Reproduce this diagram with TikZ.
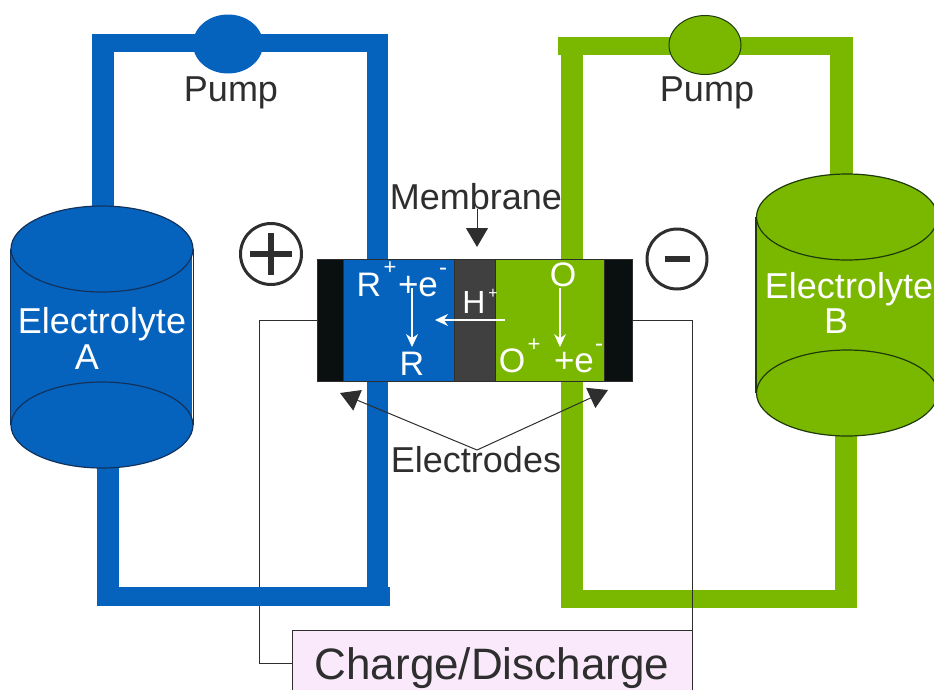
\documentclass[tikz,border=0pt]{standalone}
\usepackage{fontspec}
\setmainfont{Liberation Sans}
\usetikzlibrary{positioning,arrows.meta,shapes.geometric}
\definecolor{fluidA}{HTML}{0563BE}
\definecolor{fluidB}{HTML}{7AB800}
\definecolor{ink}{HTML}{2E2E2E}
\definecolor{edgeA}{HTML}{12325C}
\definecolor{edgeB}{HTML}{1E3A08}
\definecolor{membfill}{HTML}{404040}
\definecolor{elecfill}{HTML}{0A0F0F}
\definecolor{boxfill}{HTML}{F9E9FB}

\begin{document}
\begin{tikzpicture}[
  x=1pt,y=-1pt,
  tag/.style={anchor=base,inner sep=0pt,text=ink,font=\fontsize{36}{40}\selectfont},
  tanktag/.style={anchor=base,inner sep=0pt,text=white,font=\fontsize{36}{40}\selectfont},
  fluidtag/.style={anchor=base,inner sep=0pt,text=white,font=\fontsize{34}{40}\selectfont},
  supertag/.style={anchor=base,inner sep=0pt,text=white,font=\fontsize{22}{24}\selectfont},
  tankcap/.style={ellipse,inner sep=0pt,line width=1.2pt,minimum width=#1,minimum height=86pt},
  cellpart/.style={rectangle,inner sep=0pt,outer sep=0pt,minimum height=122pt,draw=ink,line width=0.8pt},
  wire/.style={draw=ink,line width=1pt},
  blackarrow/.style={draw=ink,line width=1pt,-{Triangle[length=19pt,width=22pt]}},
  whitearrow/.style={draw=white,line width=1.2pt,-{Stealth[length=13pt,width=12pt]}},
  sign/.style={circle,draw=ink,line width=3pt,inner sep=0pt}]

\clip (0,0) rectangle (934,689);

% ============ Green loop ============
\fill[fluidB] (558,37) rectangle (853,55);
\fill[fluidB] (561,55) rectangle (583,608);
\fill[fluidB] (830,55) rectangle (853,200);
\fill[fluidB] (835,400) rectangle (857,608);
\fill[fluidB] (561,590) rectangle (857,608);
\node[ellipse,fill=fluidB,draw=edgeB,line width=1pt,inner sep=0pt,
      minimum width=72pt,minimum height=59pt] (pumpB) at (705,45) {};
\node[tag] (pumpBlabel) at (707,101) {Pump};

% ============ Blue loop, upper part ============
\fill[fluidA] (92,34) rectangle (388,52);
\fill[fluidA] (92,52) rectangle (114,230);
\fill[fluidA] (367,52) rectangle (388,606);
\fill[fluidA] (97,440) rectangle (119,606);
\node[ellipse,fill=fluidA,inner sep=0pt,minimum width=70pt,minimum height=59pt]
  (pumpA) at (228,44) {};
\node[tag] (pumpAlabel) at (231,101) {Pump};

% ============ Tank A ============
\fill[fluidA] (11,249) rectangle (192,425);
\node[tankcap=182pt,draw=edgeA,fill=fluidA] (capA) at (102,249) {};
\node[tankcap=182pt,draw=edgeA,fill=fluidA] (baseA) at (102,425) {};
\draw[edgeA,line width=1.2pt] (capA.west) -- (baseA.west);
\draw[edgeA,line width=1.2pt] (capA.east) -- (baseA.east);
\node[tanktag] (nameA) at (102,333) {Electrolyte};
\node[tanktag] (letterA) at (87,369) {A};

% ============ Tank B ============
\fill[fluidB] (757,217) rectangle (937,393);
\node[tankcap=181pt,draw=edgeB,fill=fluidB] (capB) at (847,217) {};
\node[tankcap=181pt,draw=edgeB,fill=fluidB] (baseB) at (847,393) {};
\draw[edgeB,line width=1.2pt] (capB.west) -- (baseB.west);
\node[tanktag] (nameB) at (849,298) {Electrolyte};
\node[tanktag] (letterB) at (836,333) {B};

% ============ Cell ============
\node[cellpart,minimum width=26pt,fill=elecfill] (elecL) at (330,320) {};
\node[cellpart,minimum width=111pt,fill=fluidA,right=0pt of elecL] (halfA) {};
\node[cellpart,minimum width=41pt,fill=membfill,right=0pt of halfA] (memb) {};
\node[cellpart,minimum width=109pt,fill=fluidB,right=0pt of memb] (halfB) {};
\node[cellpart,minimum width=28pt,fill=elecfill,right=0pt of halfB] (elecR) {};

\node[fluidtag] (Rplus) at (369,296) {R};
\node[supertag] (Rsup) at (390,274.5) {+};
\node[fluidtag,font=\fontsize{35}{40}\selectfont] (Rel) at (418,296) {+e};
\node[supertag,font=\fontsize{24}{26}\selectfont] (Relsup) at (443,275.5) {-};
\node[fluidtag] (Rout) at (412,375) {R};
\node[fluidtag,font=\fontsize{32}{40}\selectfont] (proton) at (474,313) {H};
\node[supertag,font=\fontsize{16}{18}\selectfont] (protonsup) at (493,298) {+};
\node[fluidtag] (Oin) at (563,286) {O};
\node[fluidtag] (Oplus) at (512,372) {O};
\node[supertag] (Osup) at (534,351.5) {+};
\node[fluidtag,font=\fontsize{35}{40}\selectfont] (Oel) at (574,372) {+e};
\node[supertag,font=\fontsize{24}{26}\selectfont] (Oelsup) at (599,351.5) {-};

\coordinate (flowstart) at (505,320);
\coordinate (flowend) at (435,320);
\coordinate (Rstart) at (412,288);
\coordinate (Rend) at (412,347);
\coordinate (Ostart) at (560,288);
\coordinate (Oend) at (560,347);
\draw[whitearrow] (Rstart) -- (Rend);
\draw[whitearrow] (Ostart) -- (Oend);
\draw[whitearrow] (flowstart) -- (flowend);

% ============ Charger and wires ============
\node[rectangle,draw=ink,line width=1pt,fill=boxfill,text=ink,inner sep=0pt,
      minimum width=400pt,minimum height=76pt,anchor=north,
      font=\fontsize{44}{50}\selectfont] (charger) at (492,630) {Charge/Discharge};
\coordinate (wireL) at (259,320);
\draw[wire] (elecL.west) -- (wireL) |- ([yshift=5pt]charger.west);
\draw[wire] (elecR.east) -| (charger.north east);

% blue bar goes over the left wire
\fill[fluidA] (97,587) rectangle (390,606);

% ============ Labels ============
\node[tag] (memblabel) at (476,209) {Membrane};
\node[tag] (eleclabel) at (476,472) {Electrodes};
\coordinate (membtip) at (477,247);
\coordinate (membtail) at (477,209);
\draw[blackarrow] (membtail) -- (membtip);
\coordinate (elechub) at (477,450);
\coordinate (tipL) at (340,393);
\coordinate (tipR) at (608,390);
\draw[blackarrow] (elechub) -- (tipL);
\draw[blackarrow] (elechub) -- (tipR);

% ============ Polarity signs ============
\node[sign,minimum size=61pt] (plussign) at (271,254) {};
\node[sign,minimum size=60pt] (minussign) at (677,259) {};
\draw[ink,line width=5.5pt] (plussign.center) ++(-21,0) -- ++(42,0);
\draw[ink,line width=5.5pt] (plussign.center) ++(0,-21) -- ++(0,42);
\draw[ink,line width=6pt] (minussign.center) ++(-12.5,0) -- ++(25,0);

\end{tikzpicture}
\end{document}
